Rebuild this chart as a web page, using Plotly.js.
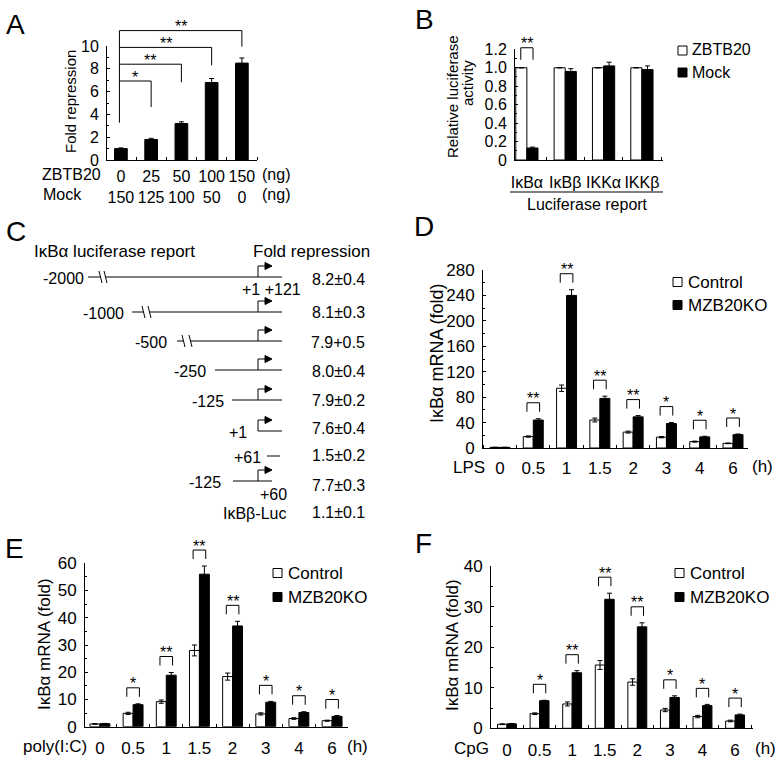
<!DOCTYPE html>
<html>
<head>
<meta charset="utf-8">
<script src="https://cdn.plot.ly/plotly-3.0.1.min.js"></script>
<style>html,body{margin:0;padding:0;background:#fff;}#chart{width:775px;height:759px;}</style>
</head>
<body>
<div id="chart"></div>
<script>
// ---------------- DATA ----------------
// Panel A
const aZBTB20 = [0, 25, 50, 100, 150];
const aMock = [150, 125, 100, 50, 0];
const aFold = [1.0, 1.8, 3.2, 6.8, 8.5];
const aFoldErr = [0.06, 0.1, 0.15, 0.35, 0.45];
const aSig = ['*', '**', '**', '**'];

// Panel B
const bCats = ['IκBα', 'IκBβ', 'IKKα', 'IKKβ'];
const bZBTB20 = [1.0, 1.0, 1.0, 1.0];
const bZBTB20Err = [0, 0, 0, 0];
const bMock = [0.13, 0.96, 1.02, 0.98];
const bMockErr = [0.01, 0.03, 0.04, 0.04];
const bSig = ['**', '', '', ''];
const bTicks = [0, 0.2, 0.4, 0.6, 0.8, 1.0, 1.2];
const bTickText = ['0', '0.2', '0.4', '0.6', '0.8', '1.0', '1.2'];

// Panel C
const cConstructs = ['-2000', '-1000', '-500', '-250', '-125', '+1', '+61', '-125', 'IκBβ-Luc'];
const cFoldMean = [8.2, 8.1, 7.9, 8.0, 7.9, 7.6, 1.5, 7.7, 1.1];
const cFoldSD = [0.4, 0.3, 0.5, 0.4, 0.2, 0.4, 0.2, 0.3, 0.1];
const cSep = ['±', '±', '+', '±', '±', '±', '±', '±', '±'];

// Panels D, E, F
const timeLabels = ['0', '0.5', '1', '1.5', '2', '3', '4', '6'];
const dCtrl = [1.0, 18, 94, 44, 25, 17, 10, 7.3];
const dCtrlErr = [0.2, 1, 5, 3, 1.5, 1, 0.8, 0.5];
const dKO = [1.0, 44, 240, 78, 49, 38.5, 17.5, 21];
const dKOErr = [0.2, 2, 9, 3.5, 2, 1.5, 1, 1];
const dSig = ['', '**', '**', '**', '**', '*', '*', '*'];

const eCtrl = [1.0, 4.9, 9.2, 28, 18.4, 4.7, 3.0, 2.2];
const eCtrlErr = [0.1, 0.4, 0.6, 2, 1.3, 0.4, 0.3, 0.2];
const eKO = [1.1, 8.1, 18.9, 56, 37, 9.0, 5.2, 3.8];
const eKOErr = [0.1, 0.3, 1, 3, 1.7, 0.3, 0.3, 0.3];
const eSig = ['', '*', '**', '**', '**', '*', '*', '*'];

const fCtrl = [1.0, 3.6, 6.0, 15.6, 11.4, 4.5, 2.9, 1.8];
const fCtrlErr = [0.1, 0.2, 0.5, 1.1, 0.8, 0.4, 0.3, 0.2];
const fKO = [1.1, 6.8, 13.7, 31.8, 25.0, 7.6, 5.6, 3.3];
const fKOErr = [0.1, 0.1, 0.5, 1.5, 1.0, 0.4, 0.3, 0.2];
const fSig = ['', '*', '**', '**', '**', '*', '*', '*'];

// ---------------- LAYOUT HELPERS ----------------
const W = 775, H = 759;
const FONT = 'Liberation Sans, Arial, Helvetica, sans-serif';
const P = x => x / W;
const Q = y => 1 - y / H;

const AX = {
  A: {x: 'x',  y: 'y',  xd: [107, 257], xr: [-0.46, 4.5],  yd: [160, 46],     yr: [0, 10]},
  B: {x: 'x2', y: 'y2', xd: [515, 663], xr: [-0.31, 3.55], yd: [160, 49.3],   yr: [0, 1.2]},
  D: {x: 'x3', y: 'y3', xd: [483, 748], xr: [-0.51, 7.45], yd: [448, 270],    yr: [0, 280]},
  E: {x: 'x4', y: 'y4', xd: [85, 348],  xr: [-0.45, 7.48], yd: [726.7, 563.3], yr: [0, 60]},
  F: {x: 'x5', y: 'y5', xd: [491, 753], xr: [-0.49, 7.55], yd: [728.3, 566],  yr: [0, 40]}
};
const toPX = (a, v) => a.xd[0] + (v - a.xr[0]) / (a.xr[1] - a.xr[0]) * (a.xd[1] - a.xd[0]);
const toPY = (a, v) => a.yd[0] + (v - a.yr[0]) / (a.yr[1] - a.yr[0]) * (a.yd[1] - a.yd[0]);

const shapes = [];
const annotations = [];
function path(pts, opts) {
  shapes.push(Object.assign({
    type: 'path', xref: 'paper', yref: 'paper', layer: 'above',
    path: 'M' + pts.map(p => P(p[0]) + ',' + Q(p[1])).join('L') + ((opts && opts.close) ? 'Z' : ''),
    line: {color: '#000', width: 1}
  }, opts && opts.fill ? {fillcolor: opts.fill} : {}));
}
function rect(x0, y0, x1, y1, fill) {
  shapes.push({type: 'rect', xref: 'paper', yref: 'paper', x0: P(x0), x1: P(x1), y0: Q(y0), y1: Q(y1),
    fillcolor: fill, line: {color: '#000', width: 1}});
}
function text(t, x, y, size, opts) {
  annotations.push(Object.assign({
    text: t, x: P(x), y: Q(y), xref: 'paper', yref: 'paper', showarrow: false,
    xanchor: 'center', yanchor: 'middle', borderpad: 0,
    font: {family: FONT, size: size || 16, color: '#000'}
  }, opts || {}));
}

function xAxis(a, labels, size, standoff) {
  return {
    domain: [P(a.xd[0]), P(a.xd[1])], range: a.xr, anchor: a.y,
    showline: true, linecolor: '#000', linewidth: 1, zeroline: false, showgrid: false,
    tickmode: 'array', tickvals: labels.map((_, i) => i), ticktext: labels,
    ticks: '', ticklabelstandoff: standoff,
    tickfont: {family: FONT, size: size, color: '#000'},
    minor: {tickmode: 'linear', tick0: 0.5, dtick: 1, ticks: 'inside', ticklen: 3, tickcolor: '#000', showgrid: false},
    fixedrange: true
  };
}
function yAxis(a, dtick, minor, size, extra) {
  return Object.assign({
    domain: [Q(a.yd[0]), Q(a.yd[1])], range: a.yr, anchor: a.x,
    showline: true, linecolor: '#000', linewidth: 1, zeroline: false, showgrid: false,
    dtick: dtick, tick0: 0, ticks: 'inside', ticklen: 3, tickcolor: '#000', ticklabelstandoff: 4,
    tickfont: {family: FONT, size: size, color: '#000'},
    minor: {dtick: minor, tick0: 0, ticks: 'inside', ticklen: 2, tickcolor: '#000', showgrid: false},
    fixedrange: true
  }, extra || {});
}

const idx = n => Array.from({length: n}, (_, i) => i);
function barTrace(a, y, err, fill, width, offset) {
  return {
    type: 'bar', x: idx(y.length), y: y, xaxis: a.x, yaxis: a.y,
    width: width, offset: offset, showlegend: false, hoverinfo: 'skip',
    marker: {color: fill, line: {color: '#000', width: 1}},
    error_y: {type: 'data', array: err, visible: true, color: '#000', thickness: 1, width: 2.5}
  };
}

// ---------------- TRACES ----------------
const traces = [];
traces.push(barTrace(AX.A, aFold, aFoldErr, '#000', 0.42, -0.21));
traces.push(barTrace(AX.B, bZBTB20, bZBTB20Err, '#fff', 0.29, -0.29));
traces.push(barTrace(AX.B, bMock, bMockErr, '#000', 0.29, 0));
traces.push(barTrace(AX.D, dCtrl, dCtrlErr, '#fff', 0.3, -0.3));
traces.push(barTrace(AX.D, dKO, dKOErr, '#000', 0.3, 0));
traces.push(barTrace(AX.E, eCtrl, eCtrlErr, '#fff', 0.3, -0.3));
traces.push(barTrace(AX.E, eKO, eKOErr, '#000', 0.3, 0));
traces.push(barTrace(AX.F, fCtrl, fCtrlErr, '#fff', 0.29, -0.29));
traces.push(barTrace(AX.F, fKO, fKOErr, '#000', 0.29, 0));

// ---------------- SIGNIFICANCE BRACKETS ----------------
function pairBrackets(a, c, ce, k, ke, sig, gap, hgt, half) {
  sig.forEach((s, i) => {
    if (!s) return;
    const top = Math.max(c[i] + ce[i], k[i] + ke[i]);
    const bottom = toPY(a, top) - gap;
    const tp = bottom - hgt;
    const xl = toPX(a, i - half), xr = toPX(a, i + half);
    path([[xl, bottom], [xl, tp], [xr, tp], [xr, bottom]]);
    text(s, toPX(a, i), tp - 4, 16);
  });
}
pairBrackets(AX.B, bZBTB20, bZBTB20Err, bMock, bMockErr, bSig, 8, 12, 0.16);
pairBrackets(AX.D, dCtrl, dCtrlErr, dKO, dKOErr, dSig, 7, 9, 0.19);
pairBrackets(AX.E, eCtrl, eCtrlErr, eKO, eKOErr, eSig, 7, 9, 0.19);
pairBrackets(AX.F, fCtrl, fCtrlErr, fKO, fKOErr, fSig, 7, 9, 0.19);

// Panel A brackets: each dose vs 0 ng, stacked
(function () {
  const a = AX.A;
  const firstLevel = 81, step = 16.8, drops = [26, 18, 18, 16];
  const x0 = toPX(a, 0) - 1.5;
  const levels = aSig.map((_, j) => firstLevel - j * step);
  path([[x0, 122.7], [x0, levels[levels.length - 1]]]);
  aSig.forEach((s, j) => {
    const xr = toPX(a, j + 1);
    path([[x0, levels[j]], [xr, levels[j]], [xr, levels[j] + drops[j]]]);
    text(s, (x0 + xr) / 2, levels[j] - 4, 16);
  });
})();

// ---------------- PANEL LABELS ----------------
text('A', 15, 24, 28);
text('B', 424, 20, 28);
text('C', 16, 231, 28);
text('D', 424, 227, 28);
text('E', 14, 548, 28);
text('F', 423, 543, 28);

// ---------------- PANEL A TEXT ----------------
text('Fold repression', 70, 102, 15, {textangle: -90});
text('ZBTB20', 102, 174, 16, {xanchor: 'right'});
text('Mock', 42, 194, 16, {xanchor: 'left'});
text('(ng)', 261, 174, 16, {xanchor: 'left'});
text('(ng)', 261, 194, 16, {xanchor: 'left'});

// ---------------- PANEL B TEXT ----------------
text('Relative luciferase', 452, 97, 15, {textangle: -90});
text('activity', 468, 83, 15, {textangle: -90});
path([[510, 192], [663, 192]]);
text('Luciferase report', 587, 204, 16);
rect(678, 46, 687, 55, '#fff');
text('ZBTB20', 691, 50, 16, {xanchor: 'left'});
rect(678, 68, 687, 77, '#000');
text('Mock', 691, 72, 16, {xanchor: 'left'});

// ---------------- PANEL C (diagram) ----------------
const cRows = [
  {y: 277, lab: 85,  brk: [88, 99],   x0: 107, x1: 282, arrow: true, vy: 279},
  {y: 312, lab: 125, brk: [132, 142], x0: 151, x1: 282, arrow: true, vy: 312},
  {y: 341, lab: 168, brk: [177, 182], x0: 192, x1: 282, arrow: true, vy: 342},
  {y: 370, lab: 207, x0: 215, x1: 282, arrow: true, vy: 371},
  {y: 400, lab: 225, x0: 232, x1: 282, arrow: true, vy: 400},
  {y: 431, lab: 248, x0: 258, x1: 282, arrow: true, vy: 429},
  {y: 456, lab: 262, x0: 267, x1: 280, arrow: false, vy: 455},
  {y: 481, lab: 222, x0: 233, x1: 272, arrow: true, vy: 485},
  {y: 512, lab: 287, x0: null, vy: 512}
];
text('IκBα luciferase report', 33, 251, 17, {xanchor: 'left'});
text('Fold repression', 252, 251, 17, {xanchor: 'left'});
cConstructs.forEach((name, i) => {
  const r = cRows[i];
  text(name, r.lab, r.y + 1.5, 16, {xanchor: 'right'});
  text(cFoldMean[i].toFixed(1) + cSep[i] + cFoldSD[i].toFixed(1), 366, r.vy, 16, {xanchor: 'right'});
  if (r.x0 === null) return;
  if (r.brk) {
    path([[r.brk[0], r.y], [r.brk[1] + 1.5, r.y]]);
    path([[r.brk[1], r.y - 6], [r.brk[1] + 3, r.y + 6]]);
    path([[r.x0 - 3, r.y - 6], [r.x0, r.y + 6]]);
    path([[r.x0 - 1.5, r.y], [r.x1, r.y]]);
  } else {
    path([[r.x0, r.y], [r.x1, r.y]]);
  }
  if (r.arrow) {
    path([[258, r.y], [258, r.y - 11], [266, r.y - 11]]);
    path([[265, r.y - 14.5], [272, r.y - 11], [265, r.y - 7.5]], {close: true, fill: '#000'});
  }
});
text('+1 +121', 271, 289, 16);
text('+60', 273, 494, 16);

// ---------------- PANELS D/E/F TEXT ----------------
function legend(x, y1, y2, size) {
  rect(x, y1 - 4.5, x + 9, y1 + 4.5, '#fff');
  text('Control', x + 14, y1, size, {xanchor: 'left'});
  rect(x, y2 - 4.5, x + 9, y2 + 4.5, '#000');
  text('MZB20KO', x + 14, y2, size, {xanchor: 'left'});
}
text('IκBα mRNA (fold)', 437, 354, 18, {textangle: -90});
text('LPS', 452, 467, 17, {xanchor: 'left'});
text('(h)', 751, 466, 17, {xanchor: 'left'});
legend(673, 282, 305, 17);

text('IκBα mRNA (fold)', 44, 644, 17, {textangle: -90});
text('poly(I:C)', 22, 746, 17, {xanchor: 'left'});
text('(h)', 346, 746, 17, {xanchor: 'left'});
legend(273, 573, 597, 17);

text('IκBα mRNA (fold)', 452, 645, 17, {textangle: -90});
text('CpG', 453, 748, 17, {xanchor: 'left'});
text('(h)', 754, 748, 17, {xanchor: 'left'});
legend(675, 573, 597, 17);

// ---------------- LAYOUT ----------------
const layout = {
  width: W, height: H,
  margin: {l: 0, r: 0, t: 0, b: 0},
  paper_bgcolor: '#fff', plot_bgcolor: '#fff',
  barmode: 'overlay', showlegend: false,
  font: {family: FONT, color: '#000'},
  xaxis: xAxis(AX.A, aZBTB20.map((z, i) => z + '<br>' + aMock[i]), 16, 2),
  yaxis: yAxis(AX.A, 2, 1, 16),
  xaxis2: xAxis(AX.B, bCats, 16, 8),
  yaxis2: yAxis(AX.B, 0.2, 0.1, 16, {tickmode: 'array', tickvals: bTicks, ticktext: bTickText}),
  xaxis3: xAxis(AX.D, timeLabels, 17, 5),
  yaxis3: yAxis(AX.D, 40, 20, 17),
  xaxis4: xAxis(AX.E, timeLabels, 17, 6),
  yaxis4: yAxis(AX.E, 10, 5, 17),
  xaxis5: xAxis(AX.F, timeLabels, 17, 6),
  yaxis5: yAxis(AX.F, 10, 5, 17),
  shapes: shapes,
  annotations: annotations
};

Plotly.newPlot('chart', traces, layout, {displayModeBar: false, staticPlot: true});
</script>
</body>
</html>
